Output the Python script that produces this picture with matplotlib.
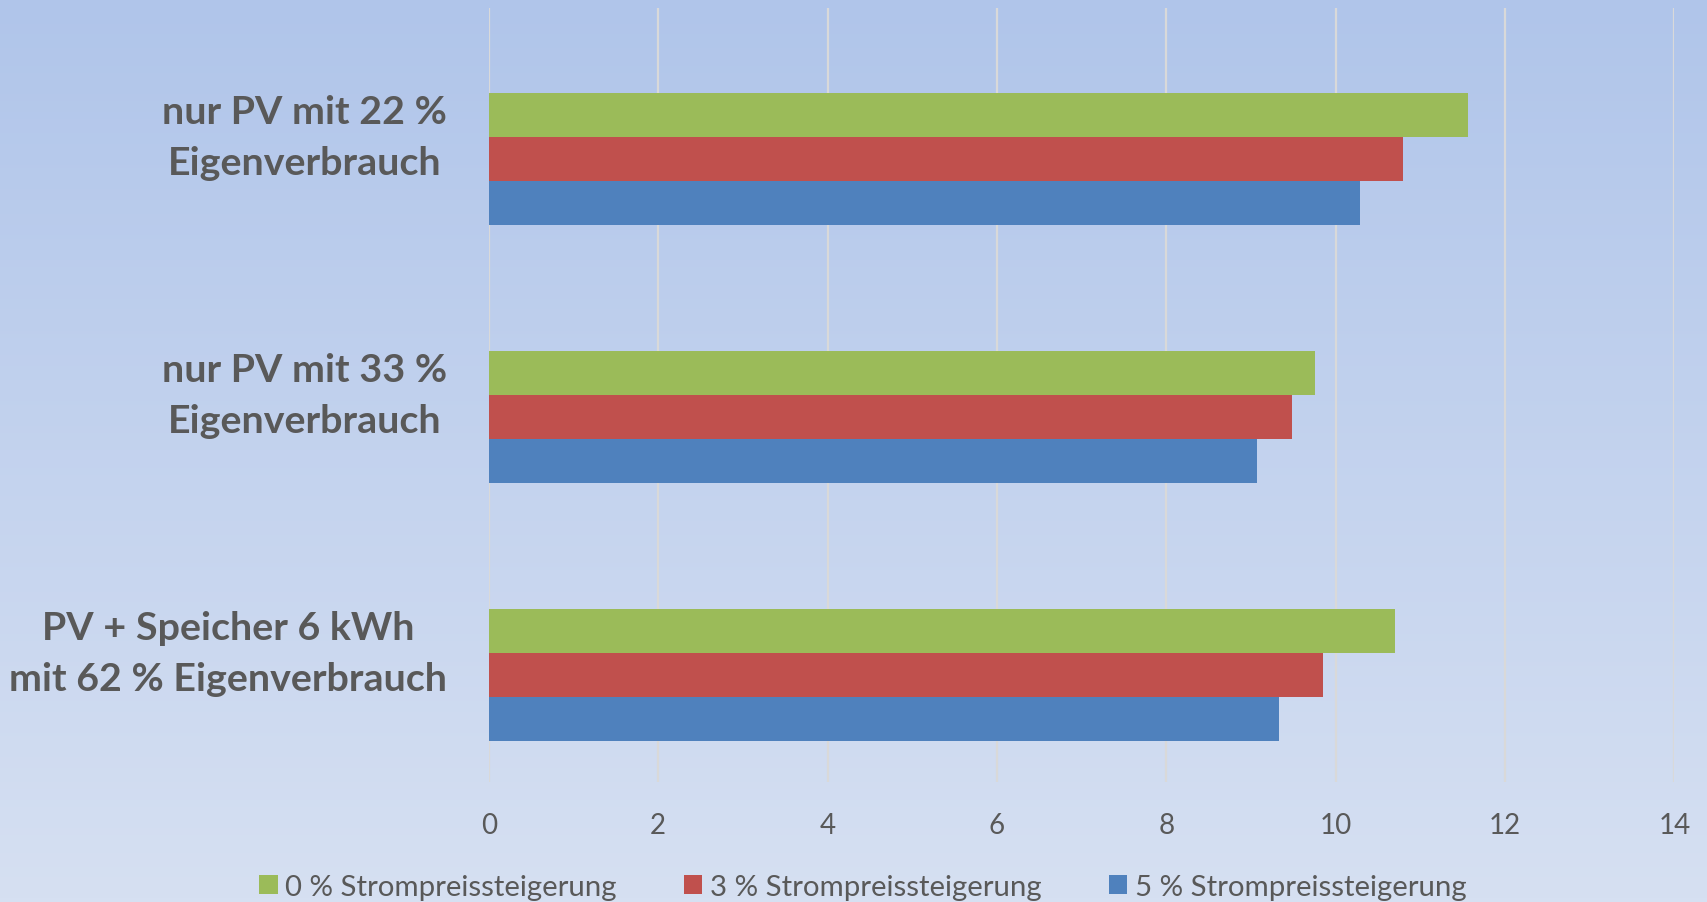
import numpy as np
import matplotlib
matplotlib.use("Agg")
import matplotlib.pyplot as plt

# Amortisation in Jahren je Variante und Strompreissteigerung
categories = ["nur PV mit 22 %\nEigenverbrauch",
              "nur PV mit 33 %\nEigenverbrauch",
              "PV + Speicher 6 kWh\nmit 62 % Eigenverbrauch"]
series_names = ["0 % Strompreissteigerung",
                "3 % Strompreissteigerung",
                "5 % Strompreissteigerung"]
values_0 = [11.56, 9.75, 10.70]
values_3 = [10.79, 9.49, 9.85]
values_5 = [10.29, 9.07, 9.33]
xticks = [0, 2, 4, 6, 8, 10, 12, 14]

colors = ["#9BBB59", "#C0504D", "#4F81BD"]
text_col = "#595959"

plt.rcParams['font.family'] = ['Lato', 'DejaVu Sans']

fig = plt.figure(figsize=(17.07, 9.03), dpi=100)

# Hintergrundverlauf ueber die ganze Flaeche
bg = fig.add_axes([0, 0, 1, 1], zorder=-10)
top = np.array([176, 197, 234]) / 255
bot = np.array([214, 224, 242]) / 255
t = np.linspace(0, 1, 256)[:, None]
grad = top[None, :] * (1 - t) + bot[None, :] * t
bg.imshow(grad[:, None, :], aspect="auto", extent=[0, 1, 0, 1])
bg.axis("off")

ax = fig.add_axes([0.2864, 0.1330, 0.6945, 0.8570])
ax.patch.set_alpha(0)

y = np.arange(len(categories))
h = 0.171
# vier Plaetze pro Gruppe, der oberste bleibt leer
for i, vals in enumerate([values_0, values_3, values_5]):
    ax.barh(y + (i - 0.5) * h, vals, height=h, color=colors[i],
            label=series_names[i], zorder=3)

ax.set_xlim(0, 14)
ax.set_ylim(2.5, -0.5)
ax.set_xticks(xticks)
ax.set_yticks(y)
ax.set_yticklabels(categories, fontsize=28.4, fontweight="bold",
                   color=text_col, ha="right", va="center",
                   multialignment="center", linespacing=1.56)
ax.tick_params(axis="y", length=0, pad=30)
ax.tick_params(axis="x", length=0, labelsize=20, labelcolor=text_col, pad=22)
ax.grid(axis="x", color="#D9D9D9", linewidth=1.6, zorder=0)
for s in ax.spines.values():
    s.set_visible(False)

fig.legend(loc="center", bbox_to_anchor=(0.5055, 0.017), ncol=3,
           frameon=False, fontsize=21.2, handlelength=0.62, handleheight=0.62,
           handletextpad=0.25, columnspacing=2.3, labelcolor=text_col,
           borderaxespad=0)

fig.savefig("out.png", dpi=100)
